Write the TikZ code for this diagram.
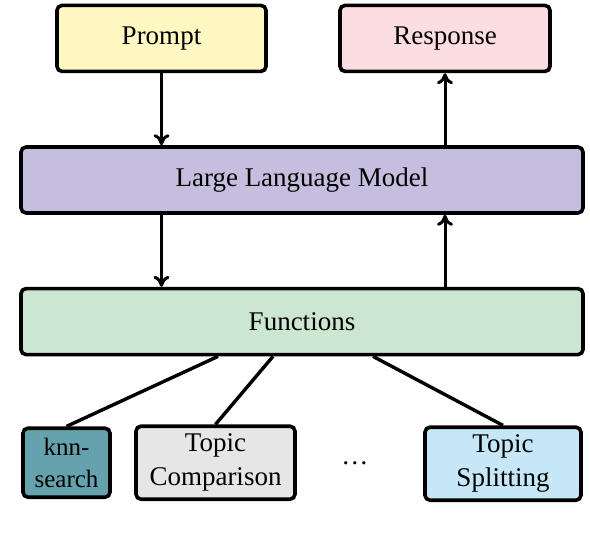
\documentclass[tikz,border=0pt]{standalone}
\usepackage{fontspec}
\setmainfont{Liberation Serif}
\usetikzlibrary{positioning,arrows.meta,calc}

\definecolor{promptc}{HTML}{FFF8C2}
\definecolor{respc}{HTML}{FCDDE1}
\definecolor{llmc}{HTML}{C5BEDF}
\definecolor{funcc}{HTML}{CCE7D1}
\definecolor{knnc}{HTML}{64A3AE}
\definecolor{compc}{HTML}{E6E6E6}
\definecolor{splitc}{HTML}{C5E7F7}

\begin{document}
\begin{tikzpicture}[
    font=\fontsize{27}{34}\selectfont,
    box/.style={draw, line width=3.6pt, rounded corners=5pt,
                minimum height=66pt, inner sep=2pt, align=center},
    wide/.style={box, minimum width=562pt},
    tool/.style={box, minimum height=73pt},
    arr/.style={line width=3pt,
                -{Computer Modern Rightarrow[length=11pt, width=16pt]}},
    link/.style={line width=3.4pt},
  ]
  \useasboundingbox (0,0) rectangle (590pt,-538pt);

  % --- model stack ---
  \node[wide, fill=llmc] (llm) at (302pt,-180pt) {Large Language Model};
  \node[box, fill=promptc, minimum width=209pt, above=72pt of llm,
        xshift=-140.5pt] (prompt) {Prompt};
  \node[box, fill=respc, minimum width=210pt, above=72pt of llm,
        xshift=143pt] (resp) {Response};
  \node[wide, fill=funcc, below=72pt of llm] (funcs) {Functions};

  \draw[arr] (prompt.south) -- (prompt.south |- llm.north);
  \draw[arr] (llm.north -| resp) -- (resp.south);
  \draw[arr] (llm.south -| prompt) -- (funcs.north -| prompt);
  \draw[arr] (funcs.north -| resp) -- (llm.south -| resp);

  % --- available functions ---
  \node[tool, fill=knnc, minimum width=87pt, minimum height=69pt,
        below=70pt of funcs, xshift=-235.5pt,
        font=\fontsize{25}{32}\selectfont] (knn) {knn-\\search};
  \node[tool, fill=compc, minimum width=159pt, below=68pt of funcs,
        xshift=-86.5pt] (comp) {Topic\\Comparison};
  \node[tool, fill=splitc, minimum width=156pt, below=69pt of funcs,
        xshift=201pt] (split) {Topic\\Splitting};
  \node (dots) at ($(comp.east)!0.46!(split.west)$) {\dots};

  \coordinate (f1) at ($(funcs.south)+(-84pt,0)$);
  \coordinate (f2) at ($(funcs.south)+(-29pt,0)$);
  \coordinate (f3) at ($(funcs.south)+(71pt,0)$);
  \draw[link] (f1) -- (knn.north);
  \draw[link] (f2) -- (comp.north);
  \draw[link] (f3) -- (split.north);
\end{tikzpicture}
\end{document}
